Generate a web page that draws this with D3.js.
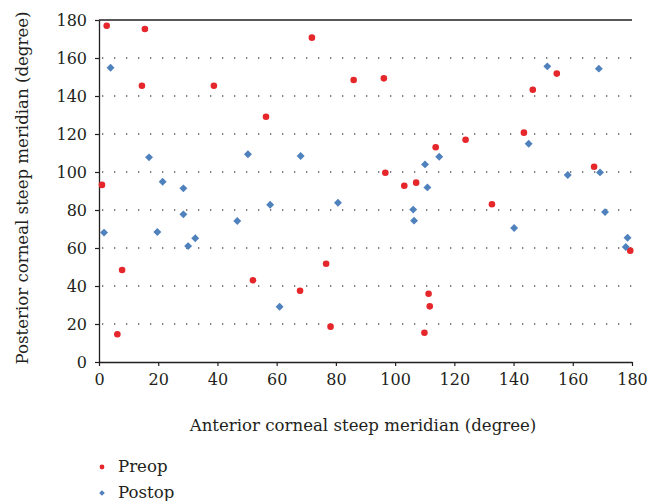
<!DOCTYPE html>
<html>
<head>
<meta charset="utf-8">
<script src="https://cdn.jsdelivr.net/npm/d3@7"></script>
<style>
  body { margin: 0; background: #fff; }
  svg text { font-family: "DejaVu Serif", "Liberation Serif", serif; fill: #231f20; }
</style>
</head>
<body>
<script>
const width = 648,
      height = 501;

// Preop points: anterior meridian (x), posterior meridian (y)
const preopX = [2.6, 15.5, 14.5, 38.8, 1.0, 71.9, 86.0, 56.4, 96.2, 123.8, 113.7, 96.7, 103.1, 107.1, 146.5,
                154.6, 143.5, 167.2, 7.8, 6.2, 76.7, 52.0, 67.9, 78.2, 132.7, 111.3, 111.7, 109.9, 179.4];
const preopY = [177.0, 175.3, 145.4, 145.4, 93.2, 170.7, 148.4, 129.1, 149.3, 117.0, 113.0, 99.6, 92.8, 94.4, 143.3,
                151.8, 120.7, 102.8, 48.4, 14.6, 51.7, 43.0, 37.5, 18.6, 83.0, 35.9, 29.3, 15.4, 58.6];

// Postop points
const postopX = [3.9, 16.9, 21.5, 28.5, 50.3, 68.1, 114.9, 110.1, 110.9, 151.4, 168.8, 145.1, 169.2, 158.3, 28.5,
                 1.7, 19.7, 32.5, 30.1, 46.7, 57.8, 80.7, 61.0, 106.1, 106.4, 170.9, 140.2, 178.5, 177.9];
const postopY = [154.9, 107.7, 94.9, 91.4, 109.3, 108.4, 108.0, 104.0, 91.9, 155.6, 154.4, 114.9, 99.8, 98.4, 77.7,
                 68.1, 68.4, 65.1, 61.0, 74.2, 82.8, 83.8, 29.1, 80.2, 74.4, 78.9, 70.5, 65.4, 60.5];

const xTicks = [0, 20, 40, 60, 80, 100, 120, 140, 160, 180];
const yTicks = [0, 20, 40, 60, 80, 100, 120, 140, 160, 180];
const gridTicks = [20, 40, 60, 80, 100, 120, 140, 160];

const seriesNames = ["Preop", "Postop"];
const red = "#e5262b",
      blue = "#4f81bd";

const plotLeft = 99, plotRight = 632, plotTop = 20, plotBottom = 362;
const fontFamily = "'DejaVu Serif', 'Liberation Serif', serif";

let svg = d3.select("body")
    .append("svg")
    .attr("width", width)
    .attr("height", height);

let x = d3.scaleLinear().domain([0, 180]).range([plotLeft, plotRight]);
let y = d3.scaleLinear().domain([0, 180]).range([plotBottom, plotTop]);

// dotted gridlines
svg.selectAll(".grid")
    .data(gridTicks)
    .enter()
    .append("line")
    .attr("class", "grid")
    .attr("x1", x(0) + 3)
    .attr("x2", x(180))
    .attr("y1", function(d) {return y(d);})
    .attr("y2", function(d) {return y(d);})
    .attr("stroke", "#555")
    .attr("stroke-width", 1.3)
    .attr("stroke-dasharray", "1.3,10.7");

// top border
svg.append("line")
    .attr("x1", x(0))
    .attr("x2", x(180))
    .attr("y1", y(180))
    .attr("y2", y(180))
    .attr("stroke", "#231f20")
    .attr("stroke-width", 1.4);

let xAxis = d3.axisBottom(x).tickValues(xTicks).tickSize(4).tickSizeOuter(0).tickPadding(8);
let yAxis = d3.axisLeft(y).tickValues(yTicks).tickSize(4).tickSizeOuter(0).tickPadding(8);

let gx = svg.append("g")
    .attr("transform", "translate(0," + plotBottom + ")")
    .call(xAxis);
let gy = svg.append("g")
    .attr("transform", "translate(" + plotLeft + ",0)")
    .call(yAxis);

[gx, gy].forEach(function(g) {
    g.attr("font-family", fontFamily).attr("font-size", 16);
    g.select(".domain").attr("stroke", "#231f20").attr("stroke-width", 1.3);
    g.selectAll(".tick line").attr("stroke", "#231f20").attr("stroke-width", 1.2);
    g.selectAll(".tick text")
        .style("font-family", fontFamily)
        .style("font-size", "16px")
        .attr("fill", "#231f20");
});

// points
let preop = preopX.map(function(v, i) {return {x: v, y: preopY[i]};});
let postop = postopX.map(function(v, i) {return {x: v, y: postopY[i]};});

svg.selectAll(".pre")
    .data(preop)
    .enter()
    .append("circle")
    .attr("class", "pre")
    .attr("cx", function(d) {return x(d.x);})
    .attr("cy", function(d) {return y(d.y);})
    .attr("r", 3.3)
    .attr("fill", red);

let diamond = d3.symbol().type(d3.symbolDiamond2).size(40);

svg.selectAll(".post")
    .data(postop)
    .enter()
    .append("path")
    .attr("class", "post")
    .attr("d", diamond)
    .attr("transform", function(d) {return "translate(" + x(d.x) + "," + y(d.y) + ")";})
    .attr("fill", blue);

// axis titles
svg.append("text")
    .attr("x", 363)
    .attr("y", 431)
    .attr("text-anchor", "middle")
    .style("font-size", "16.6px")
    .text("Anterior corneal steep meridian (degree)");

svg.append("text")
    .attr("text-anchor", "middle")
    .attr("transform", "translate(28," + 188 + ")rotate(-90)")
    .style("font-size", "16.6px")
    .text("Posterior corneal steep meridian (degree)");

// legend
let legend = svg.append("g");
legend.append("circle")
    .attr("cx", 102)
    .attr("cy", 467)
    .attr("r", 2.4)
    .attr("fill", red);
legend.append("path")
    .attr("d", d3.symbol().type(d3.symbolDiamond2).size(20))
    .attr("transform", "translate(102,493)")
    .attr("fill", blue);
legend.selectAll(".leg")
    .data(seriesNames)
    .enter()
    .append("text")
    .attr("class", "leg")
    .attr("x", 118)
    .attr("y", function(d, i) {return 472 + i * 26;})
    .style("font-size", "16.6px")
    .text(function(d) {return d;});
</script>
</body>
</html>
